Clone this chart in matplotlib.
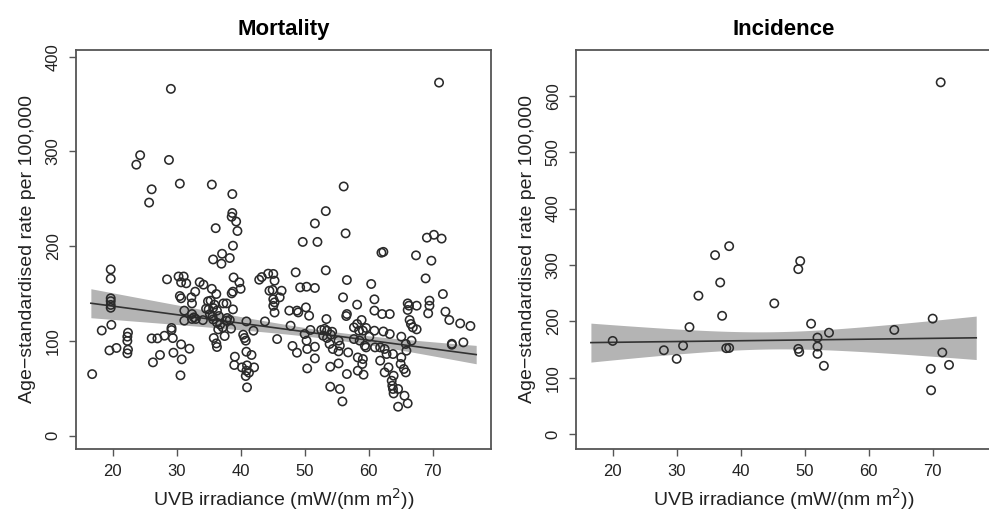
import numpy as np
import matplotlib
matplotlib.use("Agg")
import matplotlib.pyplot as plt

plt.rcParams['font.family'] = ['Liberation Sans', 'DejaVu Sans']

# Mortality: UVB irradiance vs rate
mort_x = [29.1, 24.3, 23.7, 28.8, 26.1, 25.7, 30.5, 35.5, 38.7, 38.7, 38.6, 39.3, 36.1, 39.5,
          71.0, 56.1, 53.3, 51.6, 56.4, 49.7, 52.0, 69.1, 70.2, 71.4,
          38.8, 35.7, 37.1, 37.0, 38.3, 19.7, 19.7, 19.7, 19.7, 19.7, 19.7, 19.8, 18.3, 16.8,
          19.5, 20.6, 22.4, 22.3, 22.3, 22.4, 22.3, 26.1, 27.0, 28.1, 26.3, 27.4,
          29.2, 29.2, 29.4, 29.5, 30.7, 30.8, 30.6, 32.0, 28.5, 30.3, 31.1, 30.7, 31.5, 30.5,
          30.7, 31.2, 31.2, 32.4, 32.3, 32.9, 33.6, 34.2, 32.4, 32.7, 32.4, 33.0, 34.1,
          35.5, 36.2, 34.9, 35.3, 35.7, 35.9, 35.0, 34.6, 35.2, 35.6, 35.7, 36.3, 36.6,
          37.3, 37.8, 38.6, 38.8, 38.9, 39.8, 40.0, 38.8, 36.3, 36.8, 36.5, 37.2,
          37.9, 38.3, 37.8, 38.5, 37.5, 35.8, 36.2, 36.3, 40.9, 42.0, 40.6, 40.8, 40.4,
          40.9, 41.7, 39.1, 39.0, 40.2, 41.0, 40.9, 40.8, 42.1, 41.3, 41.0,
          42.9, 43.3, 44.3, 44.5, 43.8,
          62.0, 62.3, 67.4, 69.8, 68.9, 71.6, 45.1, 45.3, 45.0, 46.4, 46.1, 45.1, 45.3, 45.1,
          45.3, 45.7, 48.6, 49.3, 50.3, 51.6, 53.3, 56.6, 56.0, 60.4, 60.9, 58.2,
          47.6, 48.8, 49.0, 50.2, 50.7, 47.8, 50.9, 50.0, 50.3, 48.1, 48.8, 50.4, 51.6, 51.6,
          50.4, 53.4, 52.6, 53.1, 53.5, 54.3, 52.9, 53.5, 54.1, 55.3, 53.9, 54.4, 55.5, 55.3,
          56.6, 56.5, 57.7, 58.2, 58.9, 58.5, 59.1, 59.6, 60.1, 60.9, 60.9, 62.1, 63.3,
          62.3, 63.3, 57.7, 58.6, 59.6, 59.4, 61.0, 61.8, 62.5, 62.8, 63.8,
          56.8, 58.3, 59.1, 59.0, 58.3, 59.2, 56.6, 61.8, 63.1, 63.9, 62.5,
          54.0, 55.3, 54.0, 55.5, 55.9, 63.6, 63.7, 63.8, 63.9, 64.6, 65.6, 64.6, 66.1,
          65.0, 65.1, 65.5, 65.8, 65.1, 65.8, 65.9, 66.7,
          66.1, 66.3, 66.1, 67.5, 66.4, 66.9, 67.5, 66.6, 69.5, 69.5, 69.3,
          72.0, 72.6, 74.3, 75.9, 73.0, 73.0, 74.8]
mort_y = [366, 296, 286, 291, 260, 246, 266, 265, 255, 235, 231, 226, 219, 216,
          372.6, 263, 237, 224, 213.5, 204.5, 204.5, 209, 212, 208,
          200.5, 186, 192, 181.5, 187.5, 175.5, 165.7, 145, 142, 138, 135, 117, 111, 65,
          90, 92.6, 108.7, 104.5, 100, 90.8, 86.9, 102.7, 102.7, 105.5, 77.4, 85.2,
          113.7, 111.5, 103, 87.6, 96.4, 80.6, 63.7, 91.8, 165, 168, 168, 161.8, 160.8, 147.4,
          145, 132, 121.4, 139.6, 146, 152, 162, 159.4, 128.4, 124.9, 123.2, 123.2, 122,
          155, 149.5, 141.8, 142.5, 134.8, 138.3, 133.3, 134, 128.4, 125.6, 122.7, 132, 126.3,
          139.6, 139.6, 150.2, 152, 167, 161.8, 155, 133.3, 119.3, 117.2, 112.2, 114.3,
          124.2, 122.1, 121.4, 113, 105.2, 103.1, 97.4, 93.6, 120.6, 110.8, 103.1, 100.3, 106.6,
          88.6, 85.2, 83.4, 74.6, 72.1, 74.2, 68.6, 63.0, 72.1, 66.5, 51,
          164.6, 167.4, 171, 153, 120.6,
          193.1, 194, 190.3, 184.7, 166, 149.5, 170.7, 163.6, 153.8, 153, 146, 144, 140.7, 137,
          130, 102, 172.4, 156.5, 157.2, 155.9, 174.5, 164.3, 146, 160.1, 143.9, 138.3,
          132, 132, 130.1, 135.4, 126.6, 116.1, 111.6, 107.3, 100.3, 94.7, 87.6, 91.5, 93.9, 81.6,
          71, 123.1, 111.6, 112.7, 110.8, 109.7, 105.5, 103.1, 106.6, 100.3, 96.8, 91.5, 95, 89,
          128.4, 126.3, 114.3, 117.9, 122.1, 110.8, 110.8, 113.7, 104.5, 110.8, 132, 128.4, 128.4,
          110, 107.3, 102, 100.3, 93.2, 95, 93.2, 93.2, 91.5, 86.2, 86.2,
          87.9, 82.6, 80.9, 75.7, 68.6, 64.4, 65.1, 79.2, 72.1, 63.3, 66.8,
          72.8, 76.3, 51.7, 49.3, 36.2, 58, 52.8, 49.3, 44.6, 49.3, 42.2, 30.6, 34.1,
          75.7, 82.6, 70.4, 66.8, 104.5, 96.8, 89.7, 100.3,
          139.6, 137.2, 132.7, 137.2, 122.1, 114.3, 112.2, 117.9, 142.5, 137.2, 129.1,
          130.9, 122.1, 118.5, 115.8, 96, 97, 98.5]

# Incidence
inc_x = [20.0, 28.0, 30.0, 31.0, 32.0, 33.4, 36.0, 38.2, 36.8, 37.1, 37.75, 38.2, 45.25,
         49.3, 49.0, 51.0, 53.8, 52.0, 52.0, 52.0, 49.0, 49.15, 53.0, 64.0, 70.0, 71.5,
         72.55, 69.7, 69.75, 71.25]
inc_y = [165.5, 149, 133.7, 157, 190, 245.6, 317.5, 333.4, 269, 210, 152.6, 153, 232,
         307, 292.7, 196, 180, 171.4, 155.5, 142.6, 151.4, 146, 121.4, 185, 205, 145,
         123, 116, 78, 623.7]

# fitted line ends and band half-widths
fit_x = [16.6, 76.8]
mort_fit = [139.8, 85.6]
inc_fit = [162.5, 171.0]
band_x_mort = [16.6, 49.3, 76.8]
band_hw_mort = [15.3, 4.6, 9.7]
band_x_inc = [16.6, 50.2, 76.8]
band_hw_inc = [34.5, 16.4, 38.5]

fig = plt.figure(figsize=(9.89, 5.15), dpi=100)
ax1 = fig.add_axes([0.0768, 0.1282, 0.4193, 0.7747])
ax2 = fig.add_axes([0.5824, 0.1282, 0.4193, 0.7747])

panels = [
    (ax1, mort_x, mort_y, mort_fit, band_x_mort, band_hw_mort, 'Mortality', (-14, 407), [0, 100, 200, 300, 400]),
    (ax2, inc_x, inc_y, inc_fit, band_x_inc, band_hw_inc, 'Incidence', (-26, 681), [0, 100, 200, 300, 400, 500, 600]),
]

for ax, xs, ys, fit, bx, bhw, title, ylim, yticks in panels:
    xx = np.linspace(fit_x[0], fit_x[1], 100)
    line = np.interp(xx, fit_x, fit)
    # hyperbolic band through the three readings
    coef = np.polyfit(bx, np.square(bhw), 2)
    hw = np.sqrt(np.polyval(coef, xx))
    ax.fill_between(xx, line - hw, line + hw, color='#b4b4b4', lw=0, zorder=1)
    ax.plot(xx, line, color='#333333', lw=1.2, zorder=2)
    ax.scatter(xs, ys, s=36, facecolors='none', edgecolors='#2a2a2a', linewidths=1.15, zorder=3)

    ax.set_xlim(14.27, 79.06)
    ax.set_ylim(*ylim)
    ax.set_xticks([20, 30, 40, 50, 60, 70])
    ax.set_yticks(yticks)
    ax.tick_params(direction='out', length=5, width=1, color='#555555',
                   labelsize=12, labelcolor='#222222', pad=6)
    for lab in ax.get_yticklabels():
        lab.set_rotation(90)
        lab.set_va('center')
    for sp in ax.spines.values():
        sp.set_color('#555555')
        sp.set_linewidth(1.3)
    ax.set_title(title, fontsize=16, fontweight='bold', pad=11)
    ax.set_xlabel('UVB irradiance (mW/(nm m$^2$))', fontsize=14, color='#222222', labelpad=5)
    ax.set_ylabel('Age\u2212standardised rate per 100,000', fontsize=14, color='#222222', labelpad=7)

fig.savefig('out.png', dpi=100)
